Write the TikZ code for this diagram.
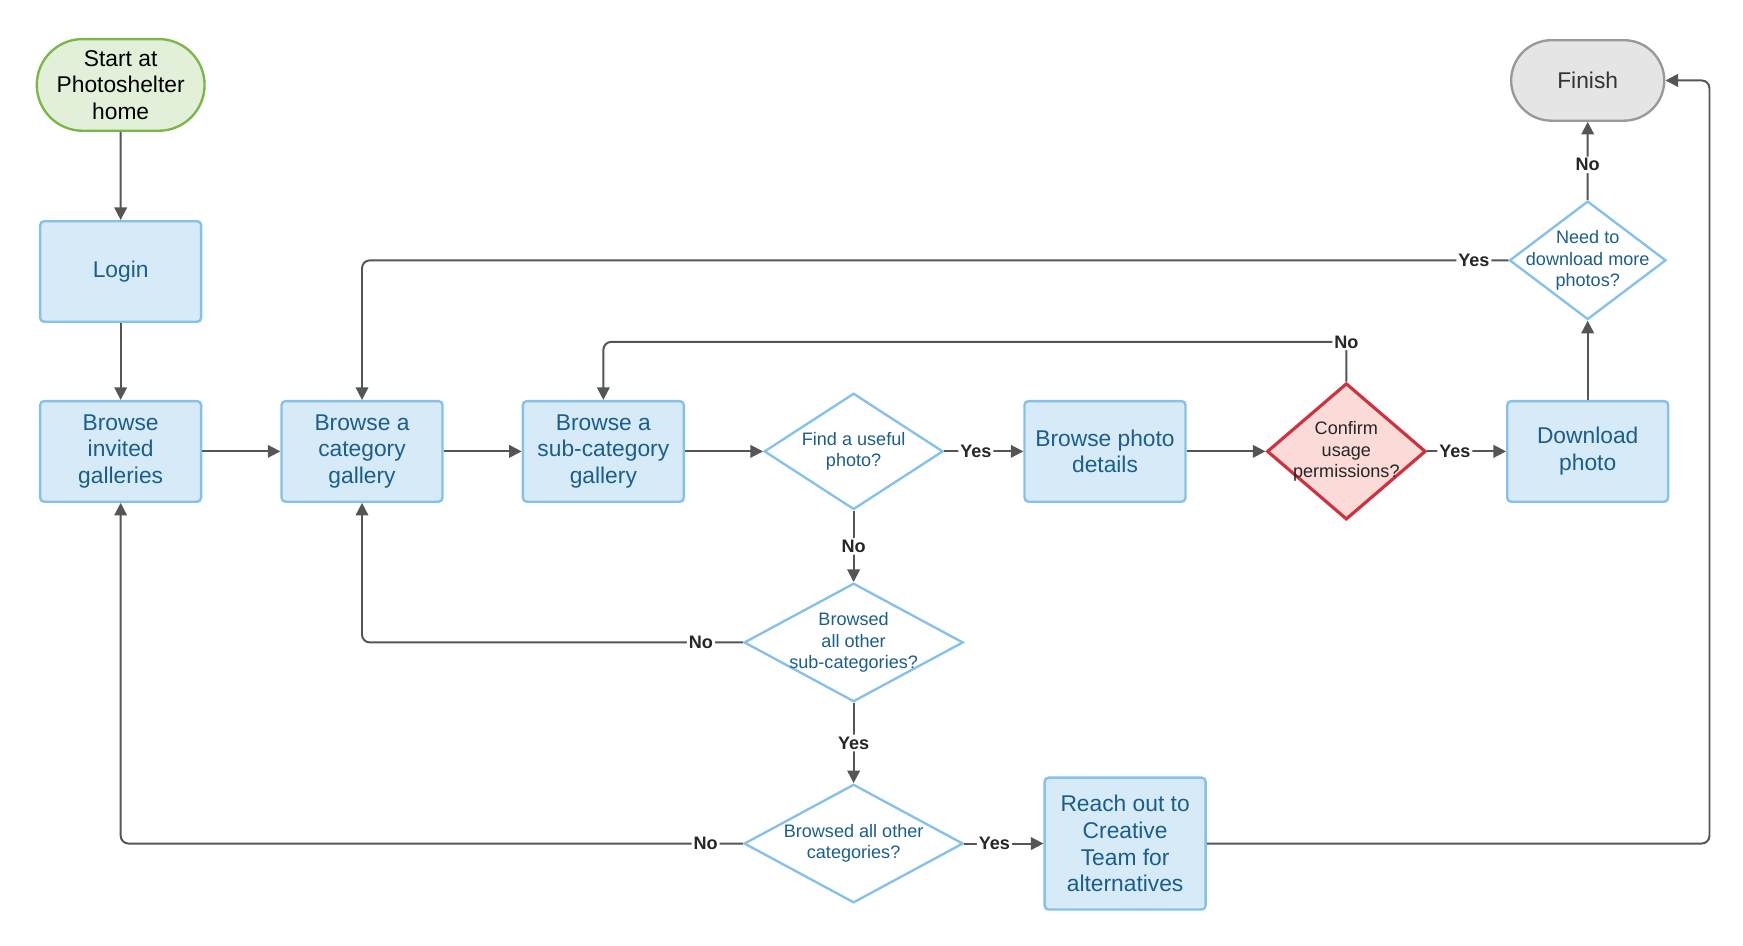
\documentclass[tikz,border=0pt]{standalone}
\usepackage{fontspec}
\setmainfont{Liberation Sans}
\usetikzlibrary{shapes.geometric,shapes.misc,arrows.meta}
\definecolor{bfill}{HTML}{D6EAF8}
\definecolor{bline}{HTML}{85C1E9}
\definecolor{btext}{HTML}{1B5E8C}
\definecolor{gfill}{HTML}{E2F0D9}
\definecolor{gline}{HTML}{7AB648}
\definecolor{rfill}{HTML}{FADBD8}
\definecolor{rline}{HTML}{D32F3C}
\definecolor{efill}{HTML}{E5E5E5}
\definecolor{eline}{HTML}{999999}
\definecolor{arr}{HTML}{555555}
\begin{document}
\begin{tikzpicture}[x=0.01cm,y=-0.01cm,
 box/.style={draw=bline,fill=bfill,line width=0.6pt,rounded corners=1pt,minimum width=1.44cm,minimum height=0.9cm,align=center,text=btext,font=\fontsize{5.8}{6.8}\selectfont,inner sep=1pt},
 dia/.style={diamond,draw=bline,fill=white,line width=0.6pt,align=center,text=btext,font=\fontsize{4.6}{5.4}\selectfont,inner sep=-10pt,aspect=1.5},
 term/.style={rounded rectangle,draw,line width=0.6pt,minimum width=1.44cm,align=center,font=\fontsize{5.8}{6.8}\selectfont,inner sep=1pt},
 ar/.style={draw=arr,line width=0.5pt,-{Triangle[length=3.2pt,width=3.2pt]},rounded corners=2pt},
 lb/.style={fill=white,font=\bfseries\fontsize{4.6}{5.4}\selectfont,text=black!85,inner sep=0.5pt}]
\useasboundingbox (0,0) rectangle (1560,846);
\node[term,draw=gline,fill=gfill,minimum height=0.82cm] (start) at (108,76) {Start at\\Photoshelter\\home};
\node[box] (login) at (108,243) {Login};
\node[box] (inv) at (108,404) {Browse\\invited\\galleries};
\node[box] (cat) at (324,404) {Browse a\\category\\gallery};
\node[box] (sub) at (540,404) {Browse a\\sub-category\\gallery};
\node[dia,minimum width=1.6cm,minimum height=1.04cm] (find) at (764,404) {Find a useful\\photo?};
\node[box] (det) at (989,404) {Browse photo\\details};
\node[dia,draw=rline,fill=rfill,line width=0.8pt,minimum width=1.42cm,minimum height=1.22cm,text=black!85] (conf) at (1205,404) {Confirm\\usage\\permissions?};
\node[box] (down) at (1421,404) {Download\\photo};
\node[dia,minimum width=1.4cm,minimum height=1.06cm] (need) at (1421,233) {Need to\\download more\\photos?};
\node[term,draw=eline,fill=efill,minimum height=0.72cm,text=black!80] (fin) at (1421,72) {Finish};
\node[dia,minimum width=1.96cm,minimum height=1.06cm] (bs) at (764,575) {Browsed\\all other\\sub-categories?};
\node[dia,minimum width=1.96cm,minimum height=1.06cm] (bc) at (764,755) {Browsed all other\\categories?};
\node[box,minimum height=1.18cm] (reach) at (1007,755) {Reach out to\\Creative\\Team for\\alternatives};
\draw[ar] (start) -- (login);
\draw[ar] (login) -- (inv);
\draw[ar] (inv) -- (cat);
\draw[ar] (cat) -- (sub);
\draw[ar] (sub) -- (find);
\draw[ar] (find) -- node[lb,pos=0.4]{Yes} (det);
\draw[ar] (det) -- (conf);
\draw[ar] (conf) -- node[lb,pos=0.35]{Yes} (down);
\draw[ar] (down) -- (need);
\draw[ar] (need) -- node[lb,pos=0.45]{No} (fin);
\draw[ar] (need.west) -- node[lb,pos=0.03]{Yes} (324,233) -- (cat.north);
\draw[ar] (conf.north) -- node[lb,pos=1]{No} (1205,306) -- (540,306) -- (sub.north);
\draw[ar] (find.south) -- node[lb,pos=0.5]{No} (bs.north);
\draw[ar] (bs.west) -- node[lb,pos=0.11]{No} (324,575) -- (cat.south);
\draw[ar] (bs.south) -- node[lb,pos=0.5]{Yes} (bc.north);
\draw[ar] (bc.west) -- node[lb,pos=0.06]{No} (108,755) -- (inv.south);
\draw[ar] (bc.east) -- node[lb,pos=0.38]{Yes} (reach.west);
\draw[ar] (reach.east) -- (1530,755) -- (1530,72) -- (fin.east);
\end{tikzpicture}
\end{document}
